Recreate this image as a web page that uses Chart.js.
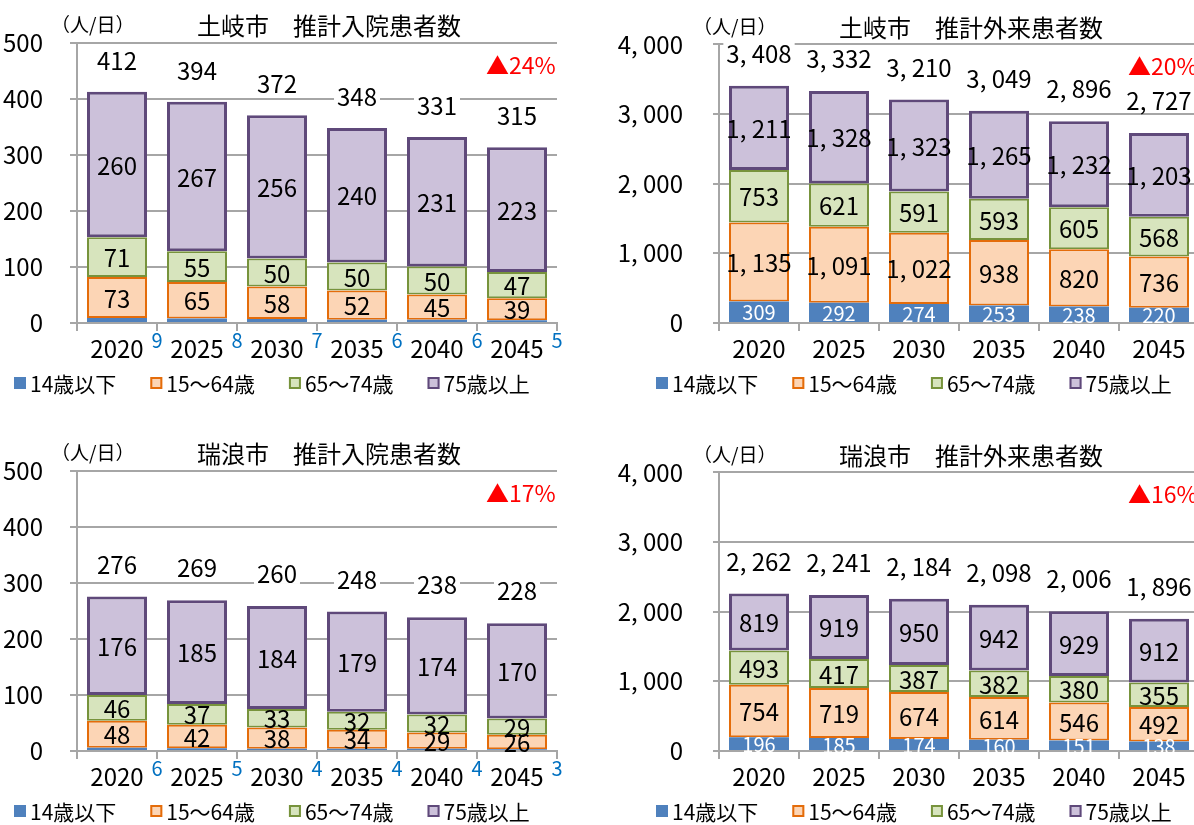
<!DOCTYPE html>
<html lang="ja">
<head>
<meta charset="utf-8">
<script src="https://cdn.jsdelivr.net/npm/chart.js@4"></script>
<style>
  html, body { margin: 0; padding: 0; background: #fff; overflow: hidden; width: 1194px; height: 825px; }
  canvas { position: absolute; }
</style>
</head>
<body>
<canvas id="tokiIn" width="597" height="428" style="left:0;top:0"></canvas>
<canvas id="tokiOut" width="620" height="428" style="left:600px;top:0"></canvas>
<canvas id="mizuIn" width="597" height="428" style="left:0;top:428px"></canvas>
<canvas id="mizuOut" width="620" height="428" style="left:600px;top:428px"></canvas>
<script>
// 年次と凡例
const years = ['2020', '2025', '2030', '2035', '2040', '2045'];
const ageGroups = ['14歳以下', '15～64歳', '65～74歳', '75歳以上'];

// 土岐市 推計入院患者数
const tokiIn014 = [9, 8, 7, 6, 6, 5];
const tokiIn1564 = [73, 65, 58, 52, 45, 39];
const tokiIn6574 = [71, 55, 50, 50, 50, 47];
const tokiIn75 = [260, 267, 256, 240, 231, 223];
const tokiInTotal = [412, 394, 372, 348, 331, 315];

// 土岐市 推計外来患者数
const tokiOut014 = [309, 292, 274, 253, 238, 220];
const tokiOut1564 = [1135, 1091, 1022, 938, 820, 736];
const tokiOut6574 = [753, 621, 591, 593, 605, 568];
const tokiOut75 = [1211, 1328, 1323, 1265, 1232, 1203];
const tokiOutTotal = [3408, 3332, 3210, 3049, 2896, 2727];

// 瑞浪市 推計入院患者数
const mizuIn014 = [6, 5, 4, 4, 4, 3];
const mizuIn1564 = [48, 42, 38, 34, 29, 26];
const mizuIn6574 = [46, 37, 33, 32, 32, 29];
const mizuIn75 = [176, 185, 184, 179, 174, 170];
const mizuInTotal = [276, 269, 260, 248, 238, 228];

// 瑞浪市 推計外来患者数
const mizuOut014 = [196, 185, 174, 160, 151, 138];
const mizuOut1564 = [754, 719, 674, 614, 546, 492];
const mizuOut6574 = [493, 417, 387, 382, 380, 355];
const mizuOut75 = [819, 919, 950, 942, 929, 912];
const mizuOutTotal = [2262, 2241, 2184, 2098, 2006, 1896];

const NUM = '"Liberation Sans Narrow", "Noto Sans CJK JP", sans-serif';
const JP = '"Noto Sans CJK JP", sans-serif';
const GRID = '#A6A6A6';
const fills = ['#4F81BD', '#FCD5B5', '#D7E4BD', '#CCC1DA'];
const borders = ['#4F81BD', '#E46C0A', '#77933C', '#5F497A'];
const borderW = [0, 2, 2, 3];

Chart.defaults.font.family = NUM;

function fmt(v) {
  return v >= 1000 ? v.toLocaleString('en-US').replace(',', ', ') : String(v);
}

// 棒の中の数値・合計・タイトル・凡例を描く
const barText = {
  id: 'barText',
  afterDatasetsDraw(chart, args, o) {
    const ctx = chart.ctx;
    const area = chart.chartArea;
    ctx.save();
    ctx.textAlign = 'center';
    ctx.textBaseline = 'middle';
    chart.data.datasets.forEach((ds, i) => {
      chart.getDatasetMeta(i).data.forEach((bar, j) => {
        const v = ds.data[j];
        if (i === 0) {
          ctx.font = '20px ' + NUM;
          if (o.smallBlue) {
            ctx.fillStyle = '#0070C0';
            ctx.fillText(v, bar.x + 40, area.bottom + 17);
          } else {
            ctx.fillStyle = '#fff';
            ctx.fillText(fmt(v), bar.x, (bar.y + bar.base) / 2 + 1);
          }
          return;
        }
        ctx.fillStyle = '#000';
        ctx.font = '24px ' + NUM;
        ctx.fillText(fmt(v), bar.x, (bar.y + bar.base) / 2 + 1);
      });
    });

    // 合計
    const topMeta = chart.getDatasetMeta(chart.data.datasets.length - 1);
    ctx.font = '24px ' + NUM;
    o.totals.forEach((t, j) => {
      const bar = topMeta.data[j];
      const y = bar.y - o.totalOffset;
      const s = fmt(t);
      const w = ctx.measureText(s).width;
      ctx.fillStyle = '#fff';
      ctx.fillRect(bar.x - w / 2 - 3, y - 11, w + 6, 22);
      ctx.fillStyle = '#000';
      ctx.fillText(s, bar.x, y + 1);
    });

    // タイトル・単位・減少率
    ctx.fillStyle = '#000';
    ctx.font = '24px ' + JP;
    ctx.fillText(o.title, area.left + 252, area.top - 17);
    ctx.textAlign = 'left';
    ctx.font = '19px ' + JP;
    ctx.fillText('（人/日）', area.left - 26, area.top - 18);
    ctx.fillStyle = '#FF0000';
    ctx.font = '23px ' + NUM;
    ctx.fillText(o.pct, area.left + 409, area.top + 22);

    // 凡例
    ctx.font = '21px ' + NUM;
    let x = area.left - 63;
    const ly = area.bottom + 60;
    chart.data.datasets.forEach(ds => {
      ctx.fillStyle = ds.backgroundColor;
      ctx.fillRect(x, ly - 6, 12, 12);
      if (ds.borderWidth) {
        ctx.strokeStyle = ds.borderColor;
        ctx.lineWidth = 2;
        ctx.strokeRect(x + 1, ly - 5, 10, 10);
      }
      ctx.fillStyle = '#000';
      ctx.fillText(ds.label, x + 16, ly + 1);
      x += 16 + ctx.measureText(ds.label).width + 34;
    });
    ctx.restore();
  }
};

function drawChart(id, series, totals, o) {
  new Chart(document.getElementById(id), {
    type: 'bar',
    data: {
      labels: years,
      datasets: series.map((d, i) => ({
        label: ageGroups[i],
        data: d,
        backgroundColor: fills[i],
        borderColor: borders[i],
        borderWidth: borderW[i],
        borderSkipped: false,
        barPercentage: 0.75,
        categoryPercentage: 1
      }))
    },
    options: {
      responsive: false,
      animation: false,
      layout: { padding: { top: 43, right: o.padRight, bottom: 64, left: 0 } },
      plugins: {
        legend: { display: false },
        tooltip: { enabled: false },
        barText: { totals: totals, title: o.title, pct: o.pct, smallBlue: o.smallBlue, totalOffset: o.totalOffset }
      },
      scales: {
        x: {
          stacked: true,
          grid: { offset: true, drawOnChartArea: false, tickLength: 8, color: GRID, lineWidth: 2 },
          border: { color: GRID, width: 2 },
          ticks: { color: '#000', padding: 3, maxRotation: 0, font: { size: 24 } },
          afterFit: s => { s.height = 41; }
        },
        y: {
          stacked: true,
          min: 0,
          max: o.max,
          ticks: { stepSize: o.step, color: '#000', padding: o.tickPad, font: { size: 24 }, callback: v => fmt(v) },
          grid: { color: GRID, lineWidth: 2, tickLength: o.tickLen },
          border: { color: GRID, width: 2 },
          afterFit: s => { s.width = o.axisW; }
        }
      }
    },
    plugins: [barText]
  });
}

drawChart('tokiIn', [tokiIn014, tokiIn1564, tokiIn6574, tokiIn75], tokiInTotal,
  { title: '土岐市　推計入院患者数', pct: '▲24%', smallBlue: true, max: 500, step: 100,
    padRight: 40, axisW: 77, tickLen: 7, tickPad: 27, totalOffset: 32 });
drawChart('tokiOut', [tokiOut014, tokiOut1564, tokiOut6574, tokiOut75], tokiOutTotal,
  { title: '土岐市　推計外来患者数', pct: '▲20%', smallBlue: false, max: 4000, step: 1000,
    padRight: 21, axisW: 119, tickLen: 6, tickPad: 30, totalOffset: 33 });
drawChart('mizuIn', [mizuIn014, mizuIn1564, mizuIn6574, mizuIn75], mizuInTotal,
  { title: '瑞浪市　推計入院患者数', pct: '▲17%', smallBlue: true, max: 500, step: 100,
    padRight: 40, axisW: 77, tickLen: 7, tickPad: 27, totalOffset: 33 });
drawChart('mizuOut', [mizuOut014, mizuOut1564, mizuOut6574, mizuOut75], mizuOutTotal,
  { title: '瑞浪市　推計外来患者数', pct: '▲16%', smallBlue: false, max: 4000, step: 1000,
    padRight: 21, axisW: 119, tickLen: 6, tickPad: 30, totalOffset: 33 });
</script>
</body>
</html>
